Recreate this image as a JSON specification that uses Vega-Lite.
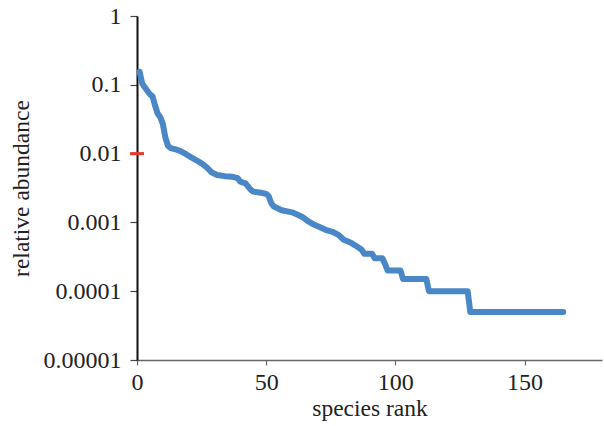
{
  "$schema": "https://vega.github.io/schema/vega-lite/v6.json",
  "autosize": "none",
  "width": 465,
  "height": 344,
  "padding": {"left": 137, "top": 16, "right": 2, "bottom": 66},
  "config": {
    "view": {"stroke": null},
    "font": "Liberation Serif",
    "axis": {"grid": false, "labelFont": "Liberation Serif", "titleFont": "Liberation Serif", "labelColor": "#222", "titleColor": "#222", "titleFontWeight": "normal"}
  },
  "datasets": {
    "curve": [
      {"rank": 1, "abundance": 0.155},
      {"rank": 2, "abundance": 0.105},
      {"rank": 3, "abundance": 0.092},
      {"rank": 4, "abundance": 0.082},
      {"rank": 5, "abundance": 0.073},
      {"rank": 6, "abundance": 0.068},
      {"rank": 7, "abundance": 0.05},
      {"rank": 8, "abundance": 0.038},
      {"rank": 9, "abundance": 0.034},
      {"rank": 10, "abundance": 0.027},
      {"rank": 11, "abundance": 0.017},
      {"rank": 12, "abundance": 0.013},
      {"rank": 13, "abundance": 0.012},
      {"rank": 15, "abundance": 0.0115},
      {"rank": 17, "abundance": 0.0108},
      {"rank": 19, "abundance": 0.0098},
      {"rank": 21, "abundance": 0.0088},
      {"rank": 23, "abundance": 0.008},
      {"rank": 25, "abundance": 0.0072},
      {"rank": 27, "abundance": 0.0063},
      {"rank": 29, "abundance": 0.0053},
      {"rank": 31, "abundance": 0.0049},
      {"rank": 34, "abundance": 0.0047},
      {"rank": 37, "abundance": 0.0046},
      {"rank": 39, "abundance": 0.0044},
      {"rank": 40, "abundance": 0.0039},
      {"rank": 42, "abundance": 0.0037},
      {"rank": 44, "abundance": 0.003},
      {"rank": 45, "abundance": 0.0028},
      {"rank": 48, "abundance": 0.0027},
      {"rank": 50, "abundance": 0.0026},
      {"rank": 51, "abundance": 0.0024},
      {"rank": 52, "abundance": 0.0019},
      {"rank": 53, "abundance": 0.0017},
      {"rank": 56, "abundance": 0.0015},
      {"rank": 60, "abundance": 0.0014},
      {"rank": 62, "abundance": 0.0013},
      {"rank": 64, "abundance": 0.0012},
      {"rank": 66, "abundance": 0.00105},
      {"rank": 68, "abundance": 0.00095},
      {"rank": 70, "abundance": 0.00088},
      {"rank": 73, "abundance": 0.00078},
      {"rank": 76, "abundance": 0.00072},
      {"rank": 78, "abundance": 0.00066},
      {"rank": 80, "abundance": 0.00056},
      {"rank": 81, "abundance": 0.00054},
      {"rank": 83, "abundance": 0.0005},
      {"rank": 85, "abundance": 0.00045},
      {"rank": 87, "abundance": 0.0004},
      {"rank": 88, "abundance": 0.00035},
      {"rank": 91, "abundance": 0.00035},
      {"rank": 92, "abundance": 0.0003},
      {"rank": 95, "abundance": 0.0003},
      {"rank": 96, "abundance": 0.00025},
      {"rank": 97, "abundance": 0.0002},
      {"rank": 102, "abundance": 0.0002},
      {"rank": 103, "abundance": 0.00015},
      {"rank": 112, "abundance": 0.00015},
      {"rank": 113, "abundance": 0.0001},
      {"rank": 128, "abundance": 0.0001},
      {"rank": 129, "abundance": 0.00005},
      {"rank": 165, "abundance": 0.00005}
    ],
    "marker": [{"x1": -2.7, "x2": 2.7, "abundance": 0.01}]
  },
  "layer": [
    {
      "data": {"name": "curve"},
      "mark": {"type": "line", "color": "#4a87c6", "strokeWidth": 6, "strokeCap": "round", "strokeJoin": "round"},
      "encoding": {
        "x": {
          "field": "rank", "type": "quantitative",
          "scale": {"domain": [0, 180], "nice": false},
          "axis": {
            "values": [0, 50, 100, 150],
            "title": "species rank",
            "titleFontSize": 23.5,
            "titlePadding": 2,
            "labelFontSize": 24,
            "labelPadding": 5,
            "domainColor": "#666",
            "domainWidth": 1.5,
            "tickColor": "#666",
            "tickSize": 5,
            "tickWidth": 1.2,
            "labelFlush": false
          }
        },
        "y": {
          "field": "abundance", "type": "quantitative",
          "scale": {"type": "log", "domain": [0.00001, 1], "nice": false},
          "axis": {
            "values": [0.00001, 0.0001, 0.001, 0.01, 0.1, 1],
            "labelExpr": "format(datum.value, '.5~f')",
            "title": "relative abundance",
            "titleFontSize": 23.5,
            "titlePadding": 10,
            "labelFontSize": 24,
            "labelPadding": 9,
            "domainColor": "#111",
            "domainWidth": 2,
            "tickColor": "#444",
            "tickSize": 7,
            "tickWidth": 1.2
          }
        }
      }
    },
    {
      "data": {"name": "marker"},
      "mark": {"type": "rule", "color": "#e8392a", "strokeWidth": 3, "clip": false},
      "encoding": {
        "x": {"field": "x1", "type": "quantitative"},
        "x2": {"field": "x2"},
        "y": {"field": "abundance", "type": "quantitative"}
      }
    }
  ]
}
